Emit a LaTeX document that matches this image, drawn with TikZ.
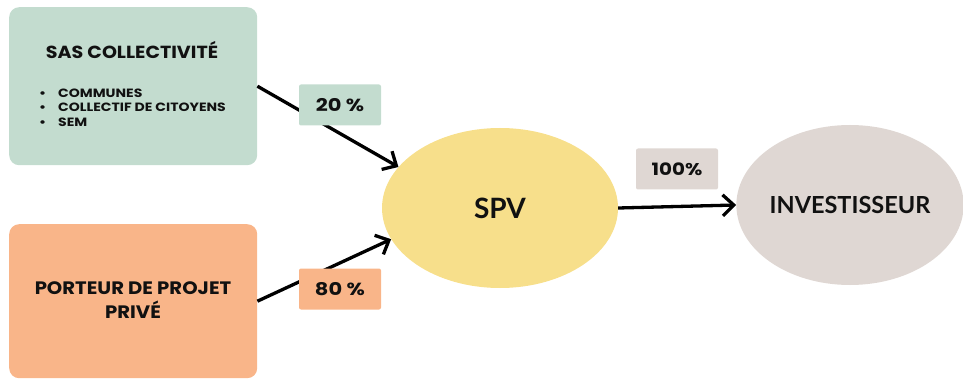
\documentclass[tikz,border=0pt]{standalone}
\usepackage{fontspec}
\setmainfont{Poppins}
\newfontfamily\ellfont{Lato}
\newfontfamily\wideA{Poppins}[FakeStretch=1.09]
\newfontfamily\wideB{Poppins}[FakeStretch=1.17]
\newfontfamily\wideC{Poppins}[FakeStretch=1.2]
\usetikzlibrary{shapes.geometric,arrows.meta}
\definecolor{cgreen}{HTML}{C3DCCF}
\definecolor{corange}{HTML}{F9B589}
\definecolor{cyellow}{HTML}{F7DF8B}
\definecolor{cgray}{HTML}{DFD7D3}
\definecolor{ctext}{HTML}{111111}
\newcommand{\bulletmark}{\makebox[19pt][l]{\textbullet}}
\tikzset{
  bigbox/.style={rounded corners=10pt, inner sep=0pt, anchor=north west},
  tag/.style={rounded corners=2pt, inner sep=0pt, minimum width=82pt, minimum height=41pt, text=ctext},
  blob/.style={ellipse, inner sep=0pt, minimum height=160pt, text=ctext},
  item/.style={anchor=west, inner sep=0pt, font=\wideB\fontsize{12pt}{13pt}\selectfont\bfseries, text=ctext},
  flow/.style={line width=3.3pt, draw=black, -{Straight Barb[length=11pt,width=21pt,line width=3.3pt]}}
}
\begin{document}
\begin{tikzpicture}[x=1pt,y=-1pt]
\useasboundingbox (0,0) rectangle (963,379);
% boxes
\node[bigbox, fill=cgreen, minimum width=248pt, minimum height=158pt] (green) at (9,7) {};
\node[bigbox, fill=corange, minimum width=248pt, minimum height=154pt] (orange) at (9,224) {};
\node[font=\wideA\fontsize{17.5pt}{20pt}\selectfont\bfseries, text=ctext] (gtitle) at (132,50) {SAS COLLECTIVITÉ};
\node[item] (b1) at (39,93) {\bulletmark COMMUNES};
\node[item] (b2) at (39,107.5) {\bulletmark COLLECTIF DE CITOYENS};
\node[item] (b3) at (39,122) {\bulletmark SEM};
\node[font=\wideA\fontsize{18pt}{24pt}\selectfont\bfseries, text=ctext, align=center] (otitle) at (133,300) {PORTEUR DE PROJET\\PRIVÉ};
% ellipses
\node[blob, fill=cyellow, minimum width=236pt, font=\ellfont\fontsize{28pt}{30pt}\selectfont\bfseries] (spv) at (500,208) {SPV};
\node[blob, fill=cgray, minimum width=226pt, font=\ellfont\fontsize{23.5pt}{28pt}\selectfont\bfseries] (inv) at (850,205) {INVESTISSEUR};
% arrows
\draw[flow] (green.east) -- (spv.158);
\draw[flow] (orange.east) -- (spv.196);
\draw[flow] (spv.east) -- (inv.west);
% tags
\node[tag, fill=cgreen, font=\wideC\fontsize{17.5pt}{18pt}\selectfont\bfseries] (t20) at (340,105) {20 \%};
\node[tag, fill=corange, font=\wideC\fontsize{17.5pt}{18pt}\selectfont\bfseries] (t80) at (340,289) {80 \%};
\node[tag, fill=cgray, font=\wideB\fontsize{17pt}{18pt}\selectfont\bfseries] (t100) at (677,169) {100\%};
\end{tikzpicture}
\end{document}
